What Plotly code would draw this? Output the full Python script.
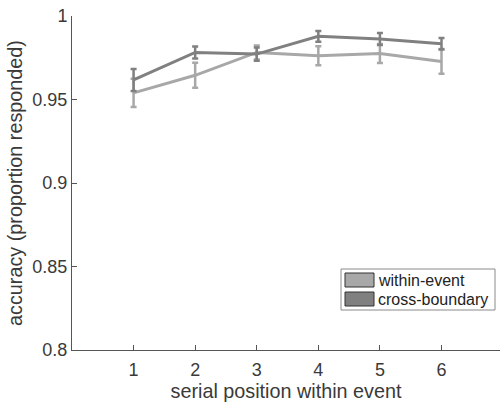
import plotly.graph_objects as go

positions = [1, 2, 3, 4, 5, 6]
within_event = [0.954, 0.9645, 0.9782, 0.9762, 0.9775, 0.9728]
within_err = [0.0085, 0.0075, 0.0042, 0.0057, 0.0057, 0.0074]
cross_boundary = [0.9617, 0.9782, 0.9772, 0.9878, 0.9862, 0.9834]
cross_err = [0.0066, 0.0036, 0.004, 0.0032, 0.0036, 0.0035]
series_names = ["within-event", "cross-boundary"]
y_ticks = [0.8, 0.85, 0.9, 0.95, 1]
y_tick_labels = ["0.8", "0.85", "0.9", "0.95", "1"]

light = "#a8a8a8"
dark = "#808080"
font_col = "#3a3a3a"

fig = go.Figure()
for vals, errs, col, name in [(within_event, within_err, light, series_names[0]),
                              (cross_boundary, cross_err, dark, series_names[1])]:
    fig.add_trace(go.Scatter(
        x=positions, y=vals, mode="lines", name=name,
        line=dict(color=col, width=3),
        error_y=dict(type="data", array=errs, visible=True, color=col, thickness=2.5, width=3),
        showlegend=False, hoverinfo="skip",
    ))

W, H = 500, 403
L, R, T, B = 72, 0, 16, 53
pw, ph = W - L - R, H - T - B

def px(x):
    return (x - L) / pw

def py(y):
    return (H - B - y) / ph

shapes = [
    dict(type="rect", xref="paper", yref="paper", x0=px(341), x1=px(495), y0=py(310), y1=py(269),
         line=dict(color="#8a8a8a", width=1), fillcolor="white"),
    dict(type="rect", xref="paper", yref="paper", x0=px(345), x1=px(374), y0=py(287), y1=py(273),
         line=dict(color="#333333", width=1), fillcolor=light),
    dict(type="rect", xref="paper", yref="paper", x0=px(345), x1=px(374), y0=py(306), y1=py(292),
         line=dict(color="#333333", width=1), fillcolor=dark),
]
annotations = [
    dict(xref="paper", yref="paper", x=px(376), y=py(280), text=series_names[0], showarrow=False,
         xanchor="left", yanchor="middle", font=dict(size=16, color="#222222", family="Liberation Sans")),
    dict(xref="paper", yref="paper", x=px(376), y=py(299), text=series_names[1], showarrow=False,
         xanchor="left", yanchor="middle", font=dict(size=16, color="#222222", family="Liberation Sans")),
]

fig.update_layout(
    width=W, height=H,
    margin=dict(l=L, r=R, t=T, b=B, autoexpand=False),
    paper_bgcolor="white", plot_bgcolor="white",
    font=dict(family="Liberation Sans", color=font_col, size=18),
    shapes=shapes, annotations=annotations,
    xaxis=dict(range=[0, 6.95], tickvals=positions, ticks="inside", ticklen=5, tickcolor="#555555",
               showline=True, linecolor="#555555", linewidth=1, showgrid=False, zeroline=False,
               automargin=False, ticklabelstandoff=3, ticklabeloverflow="allow",
               title=dict(text="serial position within event", font=dict(size=19.8), standoff=3),
               tickfont=dict(size=18)),
    yaxis=dict(range=[0.8, 1.0], tickvals=y_ticks, ticktext=y_tick_labels, ticks="inside", ticklen=5,
               tickcolor="#555555", showline=True, linecolor="#555555", linewidth=1, showgrid=False,
               zeroline=False, automargin=False, ticklabeloverflow="allow",
               title=dict(text="accuracy (proportion responded)", font=dict(size=19.8), standoff=4),
               tickfont=dict(size=18)),
)

# remove the default 8px page margin so the 500x403 figure fills the window exactly
fig.write_html("out.html", config={"displayModeBar": False},
               post_script=("document.body.style.margin='0px';"
                            "document.body.style.overflow='hidden';"
                            "document.documentElement.style.overflow='hidden';"))
